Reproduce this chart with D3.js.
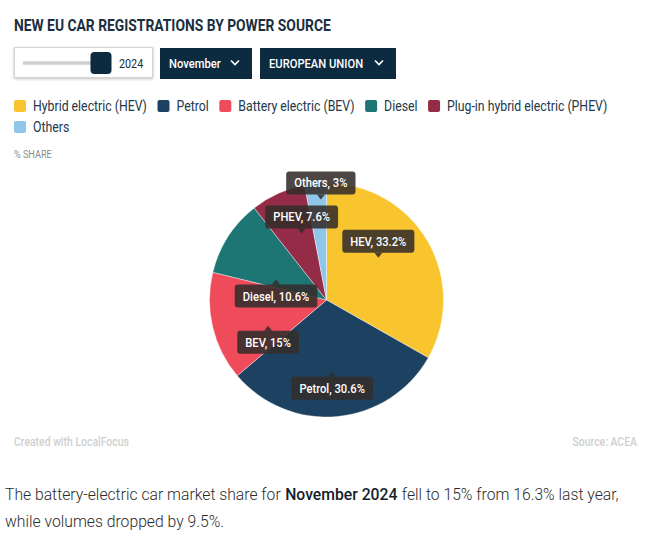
<!DOCTYPE html>
<html>
<head>
<meta charset="utf-8">
<script src="https://cdn.jsdelivr.net/npm/d3@7"></script>
<style>
  body { margin: 0; background: #fff; }
  svg text { font-family: Roboto, "Noto Sans", sans-serif; }
</style>
</head>
<body>
<div id="chart"></div>
<script>
// data
var categories = ["Hybrid electric (HEV)", "Petrol", "Battery electric (BEV)", "Diesel", "Plug-in hybrid electric (PHEV)", "Others"];
var shortNames = ["HEV", "Petrol", "BEV", "Diesel", "PHEV", "Others"];
var shares = [33.2, 30.6, 15, 10.6, 7.6, 3];
var colors = ["#f9c52f", "#1d4261", "#ef4b5a", "#1d7574", "#952c47", "#90c6ea"];
var selYear = "2024", selMonth = "November", selRegion = "EUROPEAN UNION";

var width = 671, height = 542;
var K = 0.83; // squeeze Roboto towards a condensed face

var svg = d3.select("#chart").append("svg")
    .attr("width", width)
    .attr("height", height);

var defs = svg.append("defs");
var shadow = defs.append("filter").attr("id", "shadow")
    .attr("x", "-10%").attr("y", "-20%").attr("width", "120%").attr("height", "150%");
shadow.append("feDropShadow").attr("dx", 0).attr("dy", 1).attr("stdDeviation", 1.5)
    .attr("flood-color", "#000").attr("flood-opacity", 0.25);

// add a text squeezed horizontally, returns its width
function txt(g, x, y, s, size, weight, fill, anchor, k) {
    k = k || K;
    var t = g.append("text")
        .attr("x", x / k).attr("y", y)
        .attr("transform", "scale(" + k + ",1)")
        .attr("font-size", size)
        .attr("font-weight", weight)
        .attr("fill", fill)
        .attr("text-anchor", anchor || "start")
        .text(s);
    return t.node().getComputedTextLength() * k;
}

// title
txt(svg, 14, 31, "NEW EU CAR REGISTRATIONS BY POWER SOURCE", 17, 700, "#1b2f3e", "start", 0.815);

// year slider
svg.append("rect").attr("x", 14.5).attr("y", 47.5).attr("width", 138).attr("height", 30)
    .attr("fill", "#fff").attr("stroke", "#d4d4d4").attr("filter", "url(#shadow)");
var xSlider = d3.scaleLinear().domain([2018, 2024]).range([23, 101]);
svg.append("line").attr("x1", xSlider(2018)).attr("x2", xSlider(2024)).attr("y1", 63).attr("y2", 63)
    .attr("stroke", "#cfcfcf").attr("stroke-width", 3.5);
svg.append("rect").attr("x", xSlider(+selYear) - 10.5).attr("y", 52).attr("width", 21).attr("height", 22)
    .attr("rx", 4).attr("fill", "#0d2b40");
txt(svg, 119, 68, selYear, 13, 400, "#1b2f3e");

// dropdowns
function dropdown(x, w, label) {
    var g = svg.append("g").attr("transform", "translate(" + x + ",48)");
    g.append("rect").attr("width", w).attr("height", 31).attr("fill", "#0d2b40");
    txt(g, 9, 20, label, 13.5, 500, "#fff");
    g.append("path").attr("d", "M" + (w - 21) + ",12.5 l4,4 l4,-4")
        .attr("fill", "none").attr("stroke", "#fff").attr("stroke-width", 1.6);
}
dropdown(160, 92, selMonth);
dropdown(260, 136, selRegion);

// legend
var lx = 14, ly = 100, LK = 0.82;
categories.forEach(function (c, i) {
    var g = svg.append("g");
    var tmp = g.append("text").attr("font-size", 15).text(c);
    var w = tmp.node().getComputedTextLength() * LK;
    tmp.remove();
    if (lx + 19 + w > 657) { lx = 14; ly += 21; }
    g.append("rect").attr("x", lx).attr("y", ly).attr("width", 12).attr("height", 12)
        .attr("rx", 2).attr("fill", colors[i]);
    txt(g, lx + 19, ly + 11, c, 15, 400, "#23384a", "start", LK);
    lx += 19 + w + 10.5;
});

txt(svg, 14, 158, "% SHARE", 11, 400, "#8a8a8a");

// pie
var cx = 326.5, cy = 300, R = 117;
var pie = d3.pie().sort(null).value(function (d) { return d; });
var arc = d3.arc().innerRadius(0).outerRadius(R);
var labelArc = d3.arc().innerRadius(60).outerRadius(60);
var arcs = pie(shares);

var gPie = svg.append("g").attr("transform", "translate(" + cx + "," + cy + ")");
gPie.selectAll("path.slice")
    .data(arcs)
    .enter()
    .append("path")
    .attr("class", "slice")
    .attr("d", arc)
    .style("fill", function (d, i) { return colors[i]; })
    .style("stroke", "#fff")
    .style("stroke-width", 0.4);

// labels, tooltip style
var placed = [];
var boxH = 23, tipH = 5;
arcs.forEach(function (d, i) {
    var c = labelArc.centroid(d);
    var mid = (d.startAngle + d.endAngle) / 2 * 180 / Math.PI;
    var below = mid > 90 && mid < 320;
    var label = shortNames[i] + ", " + d3.format("")(shares[i]) + "%";
    var g = gPie.append("g");
    var t = g.append("text").attr("font-size", 13.5).attr("font-weight", 500).text(label);
    var tw = t.node().getComputedTextLength() * K;
    t.remove();
    var bw = tw + 16;
    var tipY = below ? c[1] + 12 : c[1] - 12;
    var top = below ? tipY + tipH : tipY - tipH - boxH;
    var left = c[0] - bw / 2;
    // push up if it hits a box already placed
    placed.forEach(function (p) {
        if (!below && left < p.x + p.w && left + bw > p.x && top < p.y + p.h && top + boxH > p.y) {
            top = p.y - 6 - tipH - boxH;
            tipY = top + boxH + tipH;
        }
    });
    placed.push({ x: left, y: top, w: bw, h: boxH });
    var tipBase = below ? top : top + boxH;
    g.append("path")
        .attr("d", "M" + (c[0] - 4) + "," + tipBase + " L" + c[0] + "," + tipY + " L" + (c[0] + 4) + "," + tipBase + "Z")
        .attr("fill", "#332d2b").attr("fill-opacity", 0.88);
    g.append("rect").attr("x", left).attr("y", top).attr("width", bw).attr("height", boxH)
        .attr("rx", 3).attr("fill", "#332d2b").attr("fill-opacity", 0.88);
    txt(g, c[0], top + 16, label, 13.5, 500, "#fff", "middle");
});

// footer
txt(svg, 14, 446, "Created with LocalFocus", 12, 500, "#cfcfcf", "start", 0.87);
txt(svg, 637, 446, "Source:  ACEA", 12, 500, "#cfcfcf", "end", 0.87);

// caption paragraph
var PK = 0.925, px = 5;
px += txt(svg, px, 500, "The battery-electric car market share for", 17, 300, "#2b2b2b", "start", PK) + 4.5;
px += txt(svg, px, 500, selMonth + " " + selYear, 17, 500, "#14202b", "start", PK) + 4.5;
txt(svg, px, 500, "fell to 15% from 16.3% last year,", 17, 300, "#2b2b2b", "start", PK);
txt(svg, 5, 527, "while volumes dropped by 9.5%.", 17, 300, "#2b2b2b", "start", PK);
</script>
</body>
</html>
